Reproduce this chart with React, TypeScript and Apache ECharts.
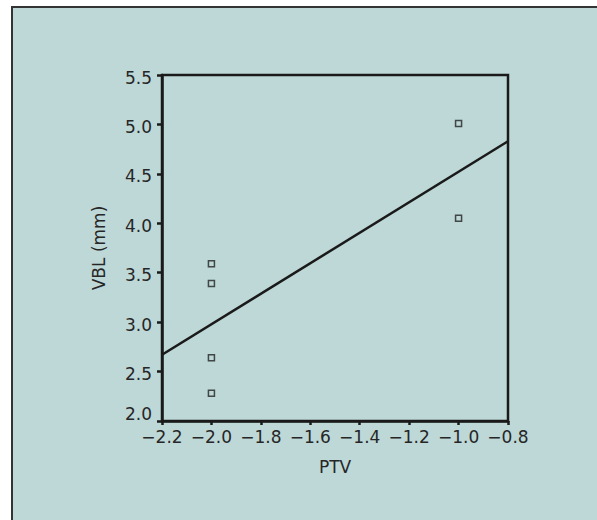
import React, { useEffect, useRef } from "react";
import * as echarts from "echarts";

const ptv = [-2.0, -2.0, -2.0, -2.0, -1.0, -1.0];
const vbl = [3.59, 3.39, 2.64, 2.28, 5.01, 4.05];
const fitPtv = [-2.2, -0.8];
const fitVbl = [2.67, 4.83];

const xMin = -2.2;
const xMax = -0.8;
const xStep = 0.2;
const yMin = 2.0;
const yMax = 5.5;
const yStep = 0.5;

const FONT = "DejaVu Sans";
const TEXT = "#262626";
const INK = "#1a1a1a";

const fmtNum = (v: number) => (v < 0 ? "\u2212" : "") + Math.abs(v).toFixed(1);

export default function App() {
  const ref = useRef<HTMLDivElement>(null);
  useEffect(() => {
    if (!ref.current) return;
    const chart = echarts.init(ref.current, undefined, { renderer: "svg" });
    chart.setOption({
      animation: false,
      backgroundColor: "#ffffff",
      graphic: {
        elements: [
          {
            type: "rect",
            z: -10,
            silent: true,
            shape: { x: 12, y: 7, width: 620, height: 540 },
            style: { fill: "#bdd8d7", stroke: "#343434", lineWidth: 2 },
          },
        ],
      },
      grid: {
        left: 162,
        top: 75,
        width: 346,
        height: 346,
        show: true,
        backgroundColor: "transparent",
        borderColor: INK,
        borderWidth: 2.5,
      },
      xAxis: {
        type: "value",
        min: xMin,
        max: xMax,
        interval: xStep,
        name: "PTV",
        nameLocation: "middle",
        nameGap: 37,
        nameTextStyle: { fontFamily: FONT, fontSize: 17, color: TEXT },
        axisLine: { show: true, lineStyle: { color: INK, width: 2.5 } },
        axisTick: { show: true, inside: false, length: 4, lineStyle: { color: INK, width: 2.5 } },
        axisLabel: {
          margin: 7,
          fontFamily: FONT,
          fontSize: 17,
          color: TEXT,
          formatter: (v: number) => fmtNum(v),
        },
        splitLine: { show: false },
      },
      yAxis: {
        type: "value",
        min: yMin,
        max: yMax,
        interval: yStep,
        name: "VBL (mm)",
        nameLocation: "middle",
        nameGap: 55,
        nameTextStyle: { fontFamily: FONT, fontSize: 17, color: TEXT },
        axisLine: { show: true, lineStyle: { color: INK, width: 2.5 } },
        axisTick: { show: true, inside: false, length: 5, lineStyle: { color: INK, width: 2.5 } },
        axisLabel: {
          margin: 10,
          fontFamily: FONT,
          fontSize: 17,
          color: TEXT,
          padding: [5, 0, 0, 0],
          formatter: (v: number) => (Math.abs(v - yMin) < 1e-9 ? "{low|" + fmtNum(v) + "}" : fmtNum(v)),
          rich: {
            low: { fontFamily: FONT, fontSize: 17, color: TEXT, padding: [0, 0, 20, 0] },
          },
        },
        splitLine: { show: false },
      },
      series: [
        {
          type: "line",
          data: fitPtv.map((x, i) => [x, fitVbl[i]]),
          showSymbol: false,
          symbol: "none",
          lineStyle: { color: INK, width: 2.5 },
          z: 2,
        },
        {
          type: "scatter",
          data: ptv.map((x, i) => [x, vbl[i]]),
          symbol: "rect",
          symbolSize: 6,
          itemStyle: { color: "#bdd8d7", borderColor: "#222222", borderWidth: 1.5 },
          z: 3,
        },
      ],
    });
    return () => chart.dispose();
  }, []);
  return (
    <div
      ref={ref}
      style={{ position: "fixed", left: 0, top: 0, width: 597, height: 520 }}
    />
  );
}
